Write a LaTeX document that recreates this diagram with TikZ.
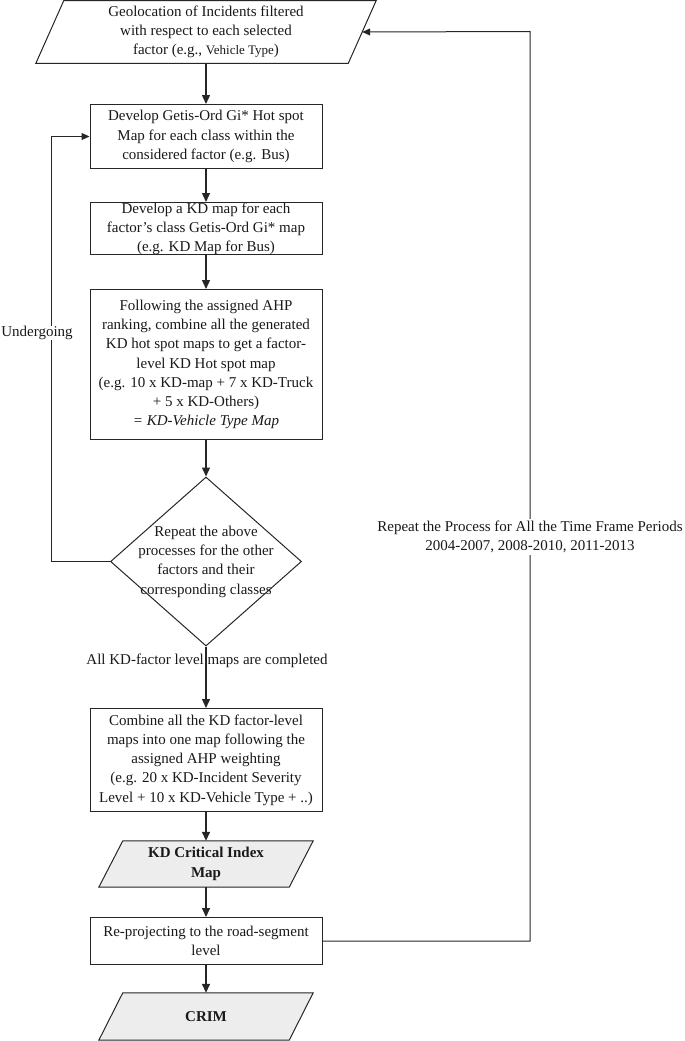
\documentclass[tikz,border=0pt]{standalone}
\usepackage{fontspec}
\setmainfont{Liberation Serif}
\usetikzlibrary{shapes.geometric,arrows.meta,calc,backgrounds}
\begin{document}
\begin{tikzpicture}[x=1pt,y=-1pt,
  every node/.style={font=\fontsize{15}{19.3}\selectfont, text=black!90},
  border/.style={draw=black!85, line width=1pt},
  proc/.style={border, fill=white, minimum width=232pt, inner sep=0pt, align=center, anchor=north},
  ghost/.style={inner sep=0pt, align=center},
  arr/.style={draw=black!85, line width=1.4pt, -{Triangle[length=9pt,width=8pt]}},
  fbarr/.style={draw=black!85, line width=1pt, -{Triangle[length=8pt,width=7pt]}},
  lbl/.style={align=center, inner sep=1pt}]
\useasboundingbox (0,0) rectangle (685,1041);

% top parallelogram
\node[ghost, minimum width=340pt, minimum height=62.5pt] (geo) at (206,32) {Geolocation of Incidents filtered\\with respect to each selected\\factor (e.g., {\fontsize{13}{19}\selectfont Vehicle Type})};
\begin{scope}[on background layer]
\draw[border, fill=white] (geo.south west) -- ($(geo.north west)+(28,0)$) -- (geo.north east) -- ($(geo.south east)+(-28,0)$) -- cycle;
\end{scope}

\node[proc, minimum height=64pt] (dev) at (206,104) {Develop Getis-Ord Gi* Hot spot\\Map for each class within the\\considered factor (e.g. Bus)};
\node[proc, minimum height=52pt] (kd) at (206,202) {Develop a KD map for each\\factor’s class Getis-Ord Gi* map\\(e.g. KD Map for Bus)};
\node[proc, minimum height=150pt] (comb) at (206,289) {Following the assigned AHP\\ranking, combine all the generated\\KD hot spot maps to get a factor-\\level KD Hot spot map\\(e.g. 10 x KD-map + 7 x KD-Truck\\+ 5 x KD-Others)\\\textit{= KD-Vehicle Type Map}};

\node[diamond, border, minimum width=191pt, minimum height=169pt, inner sep=0pt] (rep) at (206,561.5) {};
\node[ghost] (reptext) at (rep.center) {Repeat the above\\processes for the other\\factors and their\\corresponding classes};

\node[proc, minimum height=103pt] (all) at (206,708) {Combine all the KD factor-level\\maps into one map following the\\assigned AHP weighting\\(e.g. 20 x KD-Incident Severity\\Level + 10 x KD-Vehicle Type + ..)};

% KD critical index map
\node[ghost, minimum width=214pt, minimum height=46pt] (kdci) at (206,864) {\bfseries KD Critical Index\\\bfseries Map};
\begin{scope}[on background layer]
\draw[border, fill=black!7] (kdci.south west) -- ($(kdci.north west)+(24,0)$) -- (kdci.north east) -- ($(kdci.south east)+(-24,0)$) -- cycle;
\end{scope}

\node[proc, minimum height=47pt] (rp) at (206,917) {Re-projecting to the road-segment\\level};

% CRIM
\node[ghost, minimum width=214pt, minimum height=47pt] (crim) at (206,1016.5) {\bfseries CRIM};
\begin{scope}[on background layer]
\draw[border, fill=black!7] (crim.south west) -- ($(crim.north west)+(24,0)$) -- (crim.north east) -- ($(crim.south east)+(-24,0)$) -- cycle;
\end{scope}

% main arrows
\draw[arr] (geo.south) -- (dev.north);
\draw[arr] (dev.south) -- (kd.north);
\draw[arr] (kd.south) -- (comb.north);
\draw[arr] (comb.south) -- (rep.north);
\draw[arr] (rep.south) -- (all.north);
\node[lbl] (done) at (207,661) {All KD-factor level maps are completed};
\draw[arr] (all.south) -- (kdci.north);
\draw[arr] (kdci.south) -- (rp.north);
\draw[arr] (rp.south) -- (crim.north);

% undergoing loop
\draw[fbarr, line width=1.2pt] (rep.west) -- ++(-58.5,0) |- (dev.west);
\node[lbl, fill=white, inner sep=0pt] (und) at (37,333) {Undergoing};

% time frame feedback
\coordinate (fbc) at (530,31.5);
\draw[fbarr] (rp.east) -| (fbc) -- ($(geo.east)+(-14,0)$);
\node[lbl, fill=white, inner sep=2pt] (tf) at (530,537) {Repeat the Process for All the Time Frame Periods\\2004-2007, 2008-2010, 2011-2013};
\end{tikzpicture}
\end{document}
